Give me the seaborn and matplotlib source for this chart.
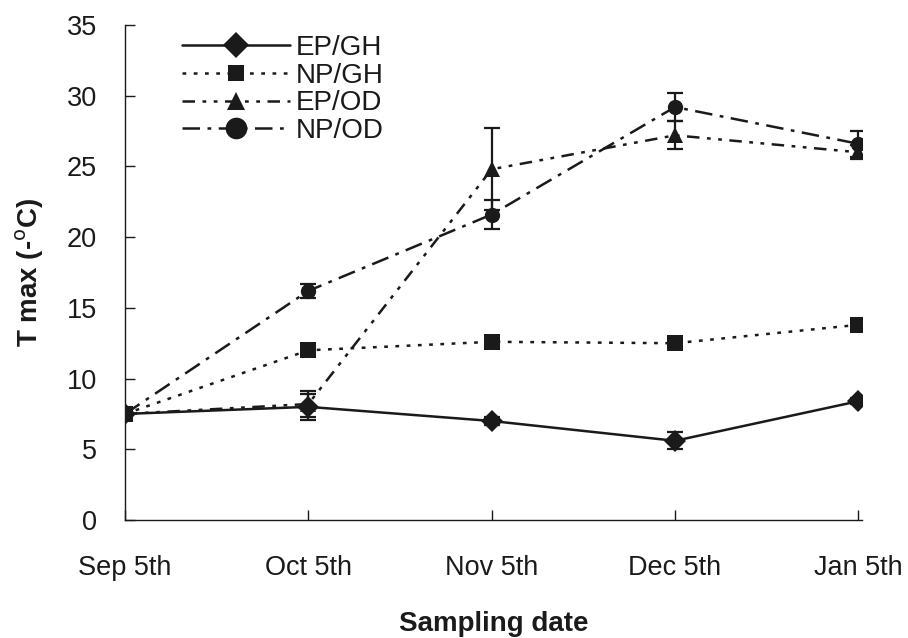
import numpy as np
import pandas as pd
import matplotlib
matplotlib.use("Agg")
import matplotlib.pyplot as plt
import seaborn as sns

dates = ["Sep 5th", "Oct 5th", "Nov 5th", "Dec 5th", "Jan 5th"]
series = ["EP/GH", "NP/GH", "EP/OD", "NP/OD"]
ep_gh = [7.5, 8.0, 7.0, 5.6, 8.4]
ep_gh_err = [0.2, 0.9, 0.3, 0.6, 0.2]
np_gh = [7.5, 12.0, 12.6, 12.5, 13.8]
np_gh_err = [0.2, 0.3, 0.2, 0.3, 0.2]
ep_od = [7.5, 8.2, 24.8, 27.2, 26.0]
ep_od_err = [0.2, 0.9, 2.9, 1.0, 0.5]
np_od = [7.5, 16.2, 21.6, 29.2, 26.6]
np_od_err = [0.2, 0.5, 1.0, 1.0, 0.9]
yticks = [0, 5, 10, 15, 20, 25, 30, 35]

sns.set_theme(style="ticks")
plt.rcParams["font.family"] = ["Liberation Sans", "DejaVu Sans"]

vals = {"EP/GH": (ep_gh, ep_gh_err), "NP/GH": (np_gh, np_gh_err),
        "EP/OD": (ep_od, ep_od_err), "NP/OD": (np_od, np_od_err)}
rows = []
for s in series:
    v, e = vals[s]
    for i, d in enumerate(dates):
        rows.append({"x": i, "date": d, "series": s, "value": v[i], "err": e[i]})
df = pd.DataFrame(rows)

fig = plt.figure(figsize=(9.08, 6.38), dpi=100)
ax = fig.add_axes([125/908, 1-520/638, (862-125)/908, (520-25)/638])

markers = {"EP/GH": "D", "NP/GH": "s", "EP/OD": "^", "NP/OD": "o"}
dashes = {"EP/GH": "", "NP/GH": (1.5, 3.0), "EP/OD": (5, 3, 1.5, 3, 1.5, 3), "NP/OD": (7, 3, 1.5, 3)}
msize = {"EP/GH": 10, "NP/GH": 9, "EP/OD": 10, "NP/OD": 12}

for s in series:
    sub = df[df.series == s]
    ax.errorbar(sub["x"], sub["value"], yerr=sub["err"], fmt="none",
                ecolor="#1a1a1a", elinewidth=1.6, capsize=6, capthick=1.6, zorder=2)

sns.lineplot(data=df, x="x", y="value", hue="series", style="series",
             palette={s: "#1a1a1a" for s in series}, markers=markers, dashes=dashes,
             linewidth=1.8, markersize=11, markeredgewidth=0, ax=ax, zorder=3,
             hue_order=series, style_order=series)

for line in ax.lines:
    lab = line.get_label()
    if lab in msize:
        line.set_markersize(msize[lab])

ax.set_xlim(0, 4.02)
ax.set_ylim(0, 35)
ax.set_xticks(range(len(dates)))
ax.set_xticklabels(dates)
ax.set_yticks(yticks)
ax.tick_params(axis="both", direction="in", length=7, width=1, colors="#1a1a1a",
               labelsize=19.5, labelcolor="#1a1a1a")
ax.tick_params(axis="y", pad=20)
ax.tick_params(axis="x", pad=25)
for sp in ["top", "right"]:
    ax.spines[sp].set_visible(False)
for sp in ["left", "bottom"]:
    ax.spines[sp].set_linewidth(1.0)
    ax.spines[sp].set_color("#1a1a1a")

ax.set_xlabel("Sampling date", fontsize=20, fontweight="bold", labelpad=22, color="#1a1a1a")
ax.set_ylabel(r"T max (-$^{\mathrm{o}}$C)", fontsize=20, fontweight="bold", labelpad=15, color="#1a1a1a")

leg = ax.legend(loc="upper left", bbox_to_anchor=(0.043, 1.03), frameon=False, fontsize=20,
                handlelength=3.9, handletextpad=0.2, labelspacing=0.06, title=None,
                markerscale=1.3)
for t in leg.get_texts():
    t.set_color("#1a1a1a")

fig.savefig("out.png", dpi=100)
